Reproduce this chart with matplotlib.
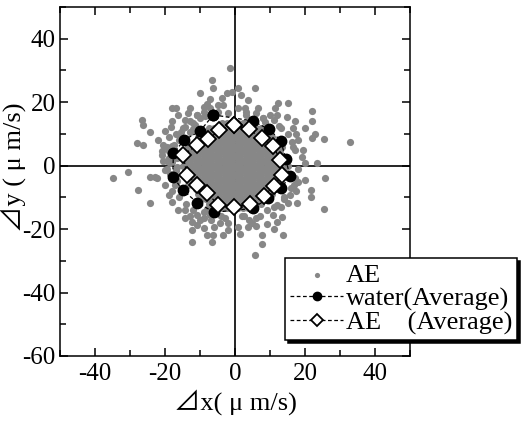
import matplotlib
matplotlib.use('Agg')
import matplotlib.pyplot as plt
from matplotlib.ticker import MultipleLocator

plt.rcParams['font.family'] = ['Liberation Serif', 'Noto Sans CJK JP', 'DejaVu Sans']
plt.rcParams['axes.unicode_minus'] = False

# AE 個別データ (外側の点)
ae_x = [-1.4, -6.7, -6.4, -10.0, -7.1, -3.8, -18.1, -16.9, -12.9, -9.0,
        -26.7, -26.4, -24.3, -18.4, -16.2, -14.3, -10.9, -27.9, -26.2, -21.9,
        -20.5, -18.1, -15.7, -12.9, -14.3, -11.4, -10.0, -7.1, -4.8, -3.3,
        -2.4, -0.9, -20.9, -19.0,
        0.9, 1.7, 5.7, 3.8, 0.9, 2.9, 6.7, 12.2, 15.2, 11.4,
        14.8, 21.9, 22.1, 20.0, 17.4, 22.7, 21.9, 25.5, 32.9, 10.0,
        8.6, 16.2, 17.1, 19.5, 19.0, 23.3, 20.0,
        -34.9, -30.5, -24.3, -22.4, -27.6, -24.3, -19.0, -18.1, -16.2, -14.3,
        -14.3, -12.4, -10.0, -10.9, -12.4, -9.0, -8.1, -12.4, -6.2, -6.7,
        -3.3, -1.9, -4.3, -7.1, -9.0, -17.1, -20.0, -22.9,
        25.7, 25.5, 21.7, 21.7, 17.6, 20.0, 18.1, 13.8, 7.6, 7.6,
        5.7, 1.4, 3.8, 4.8, 11.9, 13.3, 10.9, 15.2, 15.7, 0.9,
        -16.5, -18.5, -17.0, -8.5, 8.0, 12.5, 16.5, 18.0, 16.8, -3.0,
        2.5, 6.0, -12.0, -15.5, 11.0, 14.0, 17.5, -2.0, 3.0, -19.5,
        # 帯状の密集部
        -17.0, -15.0, -13.0, -11.0, -9.0, -7.0, -16.0, -19.0, -12.0, -13.5,
        -8.0, -5.0, -18.0, -20.0, -21.0, -19.5,
        3.0, 6.0, 8.0, 11.0, 13.0, 15.0, 16.5, 18.0, 12.0, 17.0,
        -16.0, -14.0, -12.0, -9.0, -7.0, -4.0, -2.0, -11.0, -13.0, -18.0,
        -20.0, -6.0, -8.0,
        2.0, 4.0, 7.0, 9.0, 12.0, 14.0, 16.0, 17.0, 6.0, 9.0, 11.0, 13.0,
        -18.0, -19.5, -17.0, -20.5, -18.5, -16.5, -16.5, -17.5, -19.0]
ae_y = [30.7, 27.0, 24.4, 23.0, 20.9, 21.4, 18.3, 18.3, 18.3, 18.6,
        14.4, 12.8, 10.7, 12.3, 16.0, 14.4, 16.0, 7.0, 6.5, 8.1,
        6.5, 6.3, 9.7, 10.7, 12.3, 12.8, 14.9, 18.1, 17.0, 19.1,
        22.8, 23.3, 3.3, 2.3,
        24.4, 22.3, 24.4, 20.7, 18.1, 18.1, 18.1, 19.6, 19.6, 18.1,
        15.4, 17.2, 14.1, 12.0, 9.9, 9.9, 8.8, 8.3, 7.5, 16.0,
        13.9, 7.5, 4.9, 4.9, 2.8, 0.7, 0.7,
        -3.8, -1.9, -3.5, -3.8, -7.7, -11.9, -9.3, -11.4, -14.0, -14.0,
        -16.6, -17.7, -17.2, -18.7, -20.3, -19.8, -21.9, -24.0, -21.9, -24.0,
        -21.9, -20.3, -18.2, -15.6, -14.5, -6.1, -1.4, -3.5,
        -3.8, -13.8, -7.7, -9.8, -11.9, -4.5, -5.1, -21.9, -21.9, -24.8,
        -28.2, -21.4, -19.3, -18.2, -17.7, -16.1, -15.6, -11.9, -9.3, -19.3,
        -0.5, 0.8, -1.5, 15.5, 15.0, 12.5, 6.0, -1.0, -6.0, -16.5,
        -16.0, -16.5, 13.5, 10.5, -13.0, -10.5, -8.0, 16.5, 17.0, 1.5,
        10.0, 12.0, 14.0, 16.0, 17.0, 16.0, 8.0, 9.0, 11.5, 16.5,
        19.5, 19.0, 14.0, 11.0, 4.5, 6.0,
        16.0, 16.5, 15.0, 14.5, 12.0, 10.0, 12.0, 8.0, 16.0, 14.0,
        -10.0, -12.0, -14.0, -16.5, -17.0, -16.0, -18.0, -15.5, -16.0, -8.0,
        -6.0, -19.5, -13.8,
        -16.0, -17.0, -16.0, -14.0, -12.5, -10.0, -7.0, -4.0, -19.0, -18.5, -20.0, -13.0,
        1.0, -1.0, -1.5, 1.5, -2.5, 2.5, -5.0, 6.5, 4.5]

# AE 個別データ (中心の密集部, 行ごと)
core_y = [-13.5, -12, -10.5, -9, -7.5, -6, -4.5, -3, -1.5, 0,
          1.5, 3, 4.5, 6, 7.5, 9, 10.5, 12, 13.5]
core_x = [
    "-3.75 -2.25 -0.75 0.75 2.25 3.75",
    "-7.5 -6 -4.5 -3 -1.5 0 1.5 3 4.5 6 7.5",
    "-9.75 -8.25 -6.75 -5.25 -3.75 -2.25 -0.75 0.75 2.25 3.75 5.25 6.75 8.25 9.75",
    "-10.5 -9 -7.5 -6 -4.5 -3 -1.5 0 1.5 3 4.5 6 7.5 9 10.5",
    "-11.25 -9.75 -8.25 -6.75 -5.25 -3.75 -2.25 -0.75 0.75 2.25 3.75 5.25 6.75 8.25 9.75 11.25",
    "-13.5 -12 -10.5 -9 -7.5 -6 -4.5 -3 -1.5 0 1.5 3 4.5 6 7.5 9 10.5 12 13.5",
    "-12.75 -11.25 -9.75 -8.25 -6.75 -5.25 -3.75 -2.25 -0.75 0.75 2.25 3.75 5.25 6.75 8.25 9.75 11.25 12.75",
    "-13.5 -12 -10.5 -9 -7.5 -6 -4.5 -3 -1.5 0 1.5 3 4.5 6 7.5 9 10.5 12 13.5",
    "-14.25 -12.75 -11.25 -9.75 -8.25 -6.75 -5.25 -3.75 -2.25 -0.75 0.75 2.25 3.75 5.25 6.75 8.25 9.75 11.25 12.75 14.25",
    "-15 -13.5 -12 -10.5 -9 -7.5 -6 -4.5 -3 -1.5 0 1.5 3 4.5 6 7.5 9 10.5 12 13.5 15",
    "-14.25 -12.75 -11.25 -9.75 -8.25 -6.75 -5.25 -3.75 -2.25 -0.75 0.75 2.25 3.75 5.25 6.75 8.25 9.75 11.25 12.75 14.25",
    "-13.5 -12 -10.5 -9 -7.5 -6 -4.5 -3 -1.5 0 1.5 3 4.5 6 7.5 9 10.5 12 13.5",
    "-12.75 -11.25 -9.75 -8.25 -6.75 -5.25 -3.75 -2.25 -0.75 0.75 2.25 3.75 5.25 6.75 8.25 9.75 11.25 12.75",
    "-13.5 -12 -10.5 -9 -7.5 -6 -4.5 -3 -1.5 0 1.5 3 4.5 6 7.5 9 10.5 12 13.5",
    "-11.25 -9.75 -8.25 -6.75 -5.25 -3.75 -2.25 -0.75 0.75 2.25 3.75 5.25 6.75 8.25 9.75 11.25",
    "-10.5 -9 -7.5 -6 -4.5 -3 -1.5 0 1.5 3 4.5 6 7.5 9 10.5",
    "-9.75 -8.25 -6.75 -5.25 -3.75 -2.25 -0.75 0.75 2.25 3.75 5.25 6.75 8.25 9.75",
    "-7.5 -6 -4.5 -3 -1.5 0 1.5 3 4.5 6 7.5",
    "-3.75 -2.25 -0.75 0.75 2.25 3.75",
]

# water 平均
water_x = [-6.2, 5.0, 9.8, 13.1, 14.5, 15.7, 13.1, 9.5, 5.0, -5.9,
           -10.8, -14.9, -17.8, -17.6, -14.5, -10.0, -6.2]
water_y = [16.0, 14.1, 11.4, 7.8, 2.0, -3.3, -7.2, -10.3, -13.5, -14.7,
           -11.7, -7.7, -3.5, 3.9, 8.1, 10.9, 16.0]

# AE 平均
avg_x = [-0.2, 4.1, 7.6, 10.9, 12.9, 13.5, 11.1, 8.3, 4.3, -0.2,
         -4.8, -7.9, -10.9, -13.8, -14.8, -10.9, -7.6, -4.5, -0.2]
avg_y = [12.8, 11.4, 8.6, 6.2, 1.8, -2.8, -6.4, -9.5, -12.1, -13.0,
         -12.4, -8.7, -6.1, -2.8, 3.3, 6.5, 8.3, 11.2, 12.8]


def scatter_plot():
    fig = plt.figure(figsize=(5.32, 4.21), dpi=100)
    ax = fig.add_axes([0.1128, 0.1544, 0.658, 0.829])

    cx = []
    cy = []
    for y, row in zip(core_y, core_x):
        for v in row.split():
            cx.append(float(v))
            cy.append(y)

    ax.axhline(0, color='black', lw=1.2, zorder=1)
    ax.axvline(0, color='black', lw=1.2, zorder=1)

    ax.scatter(cx, cy, s=26, color='#878787', linewidths=0, zorder=2)
    ax.scatter(ae_x, ae_y, s=27, color='#878787', linewidths=0, zorder=2,
               label='AE')
    ax.plot(water_x, water_y, ls='--', dashes=(3, 2), lw=0.9, color='black',
            marker='o', ms=7.5, mfc='black', mec='black', zorder=3,
            label='water(Average)')
    ax.plot(avg_x, avg_y, ls='--', dashes=(3, 2), lw=0.9, color='black',
            marker='D', ms=8, mfc='white', mec='black', mew=1.3, zorder=4,
            label='AE    (Average)')

    ax.set_xlim(-50, 50)
    ax.set_ylim(-60, 50)
    ax.xaxis.set_major_locator(MultipleLocator(20))
    ax.xaxis.set_minor_locator(MultipleLocator(10))
    ax.yaxis.set_major_locator(MultipleLocator(20))
    ax.yaxis.set_minor_locator(MultipleLocator(10))
    ax.tick_params(which='both', direction='in', top=True, right=True,
                   labelsize=18, width=1.1)
    ax.tick_params(axis='x', pad=5)
    ax.tick_params(axis='y', pad=3)
    ax.tick_params(which='major', length=6)
    ax.tick_params(which='minor', length=4)
    for s in ax.spines.values():
        s.set_linewidth(1.1)

    ax.set_xlabel('⊿x( μ m/s)', fontsize=19)
    ax.xaxis.set_label_coords(0.5, -0.095)
    ax.set_ylabel('⊿y ( μ m/s)', fontsize=19)
    ax.yaxis.set_label_coords(-0.098, 0.54)

    leg = ax.legend(loc='upper left', bbox_to_anchor=(0.536, 0.387),
                    bbox_transform=fig.transFigure, fontsize=19,
                    frameon=True, fancybox=False, edgecolor='black',
                    framealpha=1, borderaxespad=0, borderpad=0.2,
                    labelspacing=0.0, handlelength=2.0, handletextpad=0.1,
                    shadow={'color': 'black', 'alpha': 1})
    leg.get_frame().set_linewidth(1.1)
    leg.legend_handles[0].set_sizes([14])
    for h in leg.legend_handles[1:]:
        h.set_markersize(6)

    plt.savefig('out.png', dpi=100)


if __name__ == '__main__':
    scatter_plot()
